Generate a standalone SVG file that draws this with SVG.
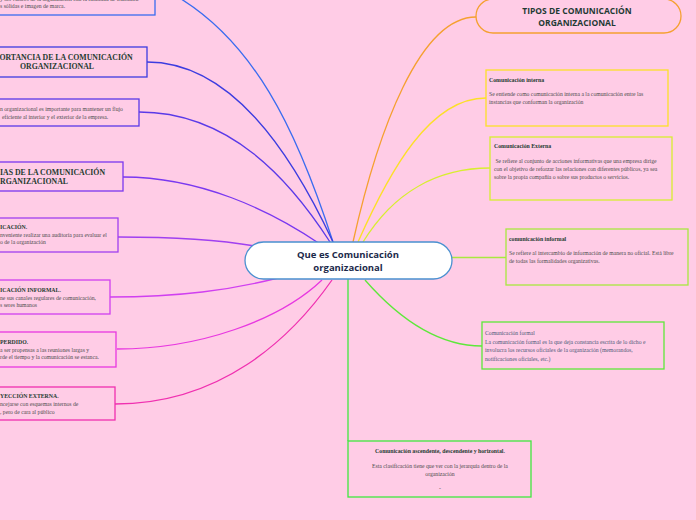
<svg xmlns="http://www.w3.org/2000/svg" width="696" height="520" viewBox="0 0 696 520">
<style>
.bg{fill:#ffcce6}
.box{fill:none;stroke-width:1.3}
.c{fill:none;stroke-width:1.3}
.h{font-family:"Liberation Serif",serif;font-weight:bold;fill:#1e3b30}
.hb{font-family:"Liberation Serif",serif;font-weight:bold;font-size:7.8px;fill:#1e3b30}
.hs{font-size:5.8px}
.t{font-family:"Liberation Serif",serif;font-size:5.7px;fill:#4d4d4d}
.tb{font-family:"Liberation Serif",serif;font-size:5.7px;fill:#4d5a78}
.main{font-family:"Open Sans","Noto Sans",sans-serif;font-weight:bold;font-size:9.5px;fill:#1c2a4a}
.tipo{font-family:"Open Sans","Noto Sans",sans-serif;font-weight:bold;font-size:8.5px;fill:#1e3a34}
</style>
<rect class="bg" x="0" y="0" width="696" height="520"/>
<g id="connectors">
<path class="c" stroke="#3a6cf0" d="M333,242 C300,140 255,30 155,-15"/>
<path class="c" stroke="#3c3ce0" d="M147,62 C230,62 290,150 333,242"/>
<path class="c" stroke="#5a3ae8" d="M139,112 C230,112 290,180 330,242"/>
<path class="c" stroke="#7a38f0" d="M123,177 C200,177 270,210 320,244"/>
<path class="c" stroke="#a040f0" d="M118,237 C170,237 220,240 255,246"/>
<path class="c" stroke="#d040f0" d="M110,297 C180,297 230,290 278,278"/>
<path class="c" stroke="#e838e0" d="M117,349 C200,349 280,320 322,280"/>
<path class="c" stroke="#f030b0" d="M115,404 C220,404 290,340 332,280"/>
<path class="c" stroke="#f5a030" d="M476,17 C420,17 378,130 353,242"/>
<path class="c" stroke="#fce028" d="M486,98 C430,98 390,170 358,242"/>
<path class="c" stroke="#d8ee30" d="M490,168 C440,168 395,190 363,242"/>
<path class="c" stroke="#a8e840" d="M452,257.5 L506,257.5"/>
<path class="c" stroke="#5ee83a" d="M365,280 C400,320 440,346 482,346"/>
<path class="c" stroke="#40e840" d="M348,279 L348,441"/>
</g>
<g id="main">
<rect x="245" y="242" width="207" height="37" rx="18.5" fill="#ffffff" stroke="#4a90d0" stroke-width="1.3"/>
<text class="main" x="348" y="258" text-anchor="middle">Que es Comunicación</text>
<text class="main" x="348" y="271" text-anchor="middle">organizacional</text>
</g>
<g id="n1">
<rect class="box" stroke="#3a6cf0" x="-80" y="-40" width="235" height="55"/>
<text class="t" x="0" y="1">y los valores de la organización con la finalidad de transmitir</text>
<text class="t" x="0" y="8">s sólidas e imagen de marca.</text>
</g>
<g id="n2">
<rect class="box" stroke="#3c3ce0" x="-80" y="47" width="227" height="30"/>
<text class="hb" x="66" y="60" text-anchor="middle">ORTANCIA DE LA COMUNICACIÓN</text>
<text class="hb" x="57" y="69" text-anchor="middle">ORGANIZACIONAL</text>
</g>
<g id="n3">
<rect class="box" stroke="#5a3ae8" x="-80" y="99" width="219" height="27"/>
<text class="t" x="0" y="111">n organizacional es importante para mantener un flujo</text>
<text class="t" x="2" y="118.5">eficiente al interior y el exterior de la empresa.</text>
</g>
<g id="n4">
<rect class="box" stroke="#7a38f0" x="-80" y="162" width="203" height="29"/>
<text class="hb" x="0" y="175">IAS DE LA COMUNICACIÓN</text>
<text class="hb" x="0" y="184">RGANIZACIONAL</text>
</g>
<g id="n5">
<rect class="box" stroke="#a040f0" x="-80" y="218" width="198" height="34"/>
<text class="h hs" x="0" y="229">ICACIÓN.</text>
<text class="t" x="0" y="237">nveniente realizar una auditoría para evaluar el</text>
<text class="t" x="0" y="244">o de la organización</text>
</g>
<g id="n6">
<rect class="box" stroke="#d040f0" x="-80" y="280" width="190" height="34"/>
<text class="h hs" x="0" y="292">ICACIÓN INFORMAL.</text>
<text class="t" x="0" y="299.5">ne sus canales regulares de comunicación,</text>
<text class="t" x="0" y="307">s seres humanos</text>
</g>
<g id="n7">
<rect class="box" stroke="#e838e0" x="-80" y="332" width="196" height="35"/>
<text class="h hs" x="0" y="344">PERDIDO.</text>
<text class="t" x="0" y="351.5">a ser propensas a las reuniones largas y</text>
<text class="t" x="0" y="359">rde el tiempo y la comunicación se estanca.</text>
</g>
<g id="n8">
<rect class="box" stroke="#f030b0" x="-80" y="387" width="195" height="33"/>
<text class="h hs" x="0" y="398">YECCIÓN EXTERNA.</text>
<text class="t" x="0" y="406">ncejarse con esquemas internos de</text>
<text class="t" x="0" y="414">, pero de cara al público</text>
</g>
<g id="tipos">
<rect x="476" y="-1" width="205" height="34" rx="17" fill="none" stroke="#f5a030" stroke-width="1.3"/>
<text class="tipo" x="577" y="14" text-anchor="middle">TIPOS DE COMUNICACIÓN</text>
<text class="tipo" x="577" y="26" text-anchor="middle">ORGANIZACIONAL</text>
</g>
<g id="interna">
<rect class="box" stroke="#fce028" x="486" y="70" width="182" height="56"/>
<text class="h hs" x="489" y="82">Comunicación interna</text>
<text class="t" x="489" y="96">Se entiende como comunicación interna a la comunicación entre las</text>
<text class="t" x="489" y="104">instancias que conforman la organización</text>
</g>
<g id="externa">
<rect class="box" stroke="#d8ee30" x="490" y="137" width="182" height="63"/>
<text class="h hs" x="494" y="148">Comunicación Externa</text>
<text class="t" x="494" y="163" xml:space="preserve"> Se refiere al conjunto de acciones informativas que una empresa dirige</text>
<text class="t" x="494" y="171">con el objetivo de reforzar las relaciones con diferentes públicos, ya sea</text>
<text class="t" x="494" y="178.5">sobre la propia compañía o sobre sus productos o servicios.</text>
</g>
<g id="informal">
<rect class="box" stroke="#a8e840" x="506" y="229" width="182" height="56"/>
<text class="h hs" x="509" y="241">comunicación informal</text>
<text class="t" x="509" y="255">Se refiere al intercambio de información de manera no oficial. Está libre</text>
<text class="t" x="509" y="263">de todas las formalidades organizativas.</text>
</g>
<g id="formal">
<rect class="box" stroke="#5ee83a" x="482" y="322" width="182" height="47"/>
<text class="tb" x="485" y="335">Comunicación formal</text>
<text class="tb" x="485" y="343.5">La comunicación formal es la que deja constancia escrita de lo dicho e</text>
<text class="tb" x="485" y="352">involucra los recursos oficiales de la organización (memorandos,</text>
<text class="tb" x="485" y="360.5">notificaciones oficiales, etc.)</text>
</g>
<g id="ascendente">
<rect class="box" stroke="#40e840" x="348" y="441" width="183" height="56"/>
<text class="h hs" x="440" y="453" text-anchor="middle">Comunicación ascendente, descendente y horizontal.</text>
<text class="t" x="440" y="468" text-anchor="middle">Esta clasificación tiene que ver con la jerarquía dentro de la</text>
<text class="t" x="440" y="475.5" text-anchor="middle">organización</text>
<text class="t" x="440" y="490" text-anchor="middle">-</text>
</g>
</svg>
